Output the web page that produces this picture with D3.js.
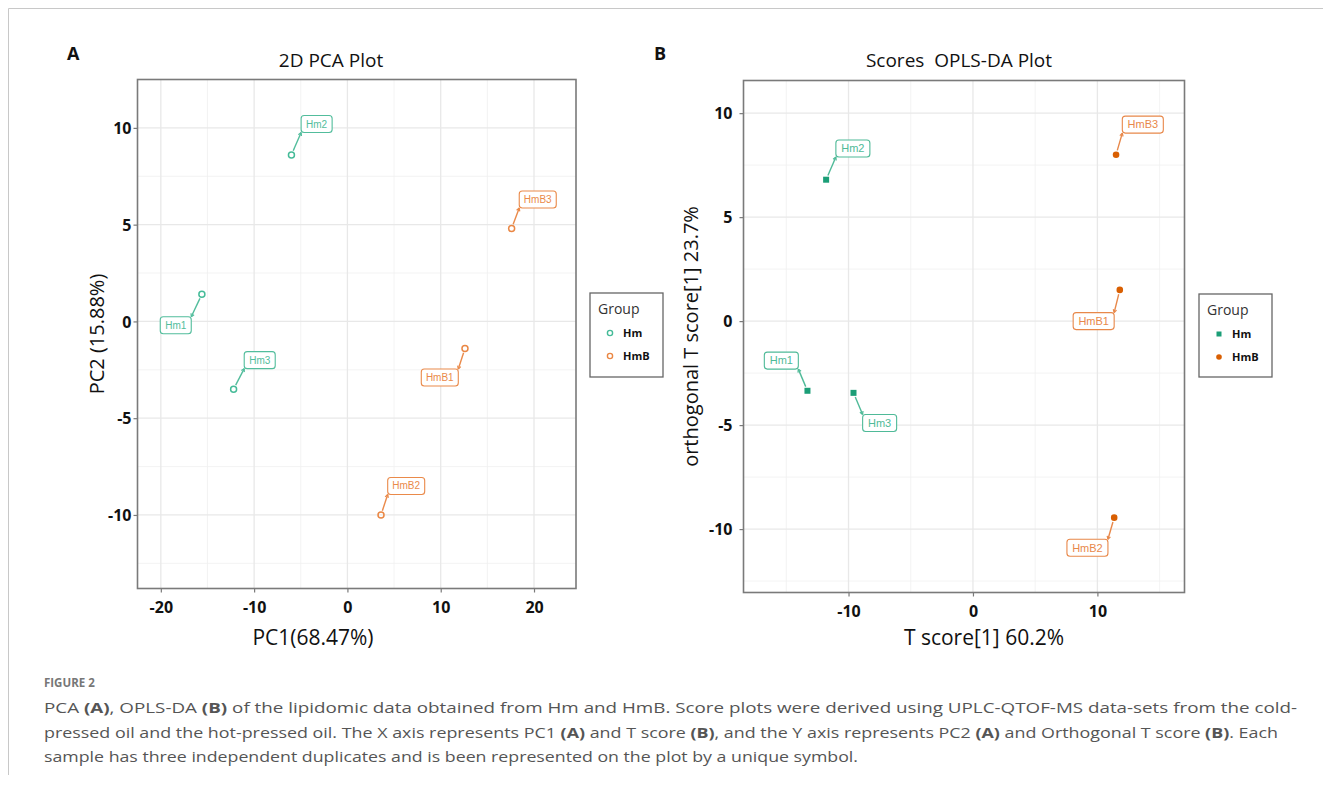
<!DOCTYPE html>
<html>
<head>
<meta charset="utf-8">
<script src="https://cdn.jsdelivr.net/npm/d3@7"></script>
<style>
  body { margin: 0; background: #fff; }
  svg { display: block; font-family: "Open Sans", "Noto Sans", sans-serif; }
</style>
</head>
<body>
<svg id="fig" width="1323" height="787"></svg>
<script>
// ---------- data ----------
const samples = ["Hm1", "Hm2", "Hm3", "HmB1", "HmB2", "HmB3"];
const groups = ["Hm", "Hm", "Hm", "HmB", "HmB", "HmB"];
const groupNames = ["Hm", "HmB"];

// panel A: PCA scores
const pcaPC1 = [-15.6, -6.0, -12.2, 12.6, 3.6, 17.6];
const pcaPC2 = [1.4, 8.6, -3.5, -1.4, -10.0, 4.8];
const pcaLabelX = [-18.4, -3.3, -9.4, 9.9, 6.3, 20.4];
const pcaLabelY = [-0.2, 10.2, -2.0, -2.9, -8.5, 6.3];
const pcaXTicks = [-20, -10, 0, 10, 20];
const pcaYTicks = [-10, -5, 0, 5, 10];

// panel B: OPLS-DA scores
const oplsT = [-13.3, -11.8, -9.6, 11.8, 11.35, 11.5];
const oplsOrtho = [-3.35, 6.8, -3.45, 1.5, -9.45, 8.0];
const oplsLabelX = [-15.4, -9.65, -7.5, 9.7, 9.2, 13.65];
const oplsLabelY = [-1.9, 8.3, -4.9, 0.0, -10.9, 9.45];
const oplsXTicks = [-10, 0, 10];
const oplsYTicks = [-10, -5, 0, 5, 10];

const captionLines = [
  [["PCA ", 0], ["(A)", 1], [", OPLS-DA ", 0], ["(B)", 1], [" of the lipidomic data obtained from Hm and HmB. Score plots were derived using UPLC-QTOF-MS data-sets from the cold-", 0]],
  [["pressed oil and the hot-pressed oil. The X axis represents PC1 ", 0], ["(A)", 1], [" and T score ", 0], ["(B)", 1], [", and the Y axis represents PC2 ", 0], ["(A)", 1], [" and Orthogonal T score ", 0], ["(B)", 1], [". Each", 0]],
  [["sample has three independent duplicates and is been represented on the plot by a unique symbol.", 0]]
];

const svg = d3.select("#fig");

// outer frame lines
svg.append("line").attr("x1", 8.5).attr("x2", 1323).attr("y1", 8.5).attr("y2", 8.5)
  .attr("stroke", "#c8c8c8").attr("stroke-width", 1);
svg.append("line").attr("x1", 8.5).attr("x2", 8.5).attr("y1", 8.5).attr("y2", 775)
  .attr("stroke", "#c8c8c8").attr("stroke-width", 1);

function drawPanel(cfg) {
  const x = d3.scaleLinear().domain(cfg.xDomain).range([cfg.left, cfg.right]);
  const y = d3.scaleLinear().domain(cfg.yDomain).range([cfg.bottom, cfg.top]);
  const g = svg.append("g");

  // minor grid (midpoints between major ticks)
  g.selectAll(".xminor").data(cfg.xMinor).enter().append("line")
    .attr("x1", d => x(d)).attr("x2", d => x(d))
    .attr("y1", cfg.top).attr("y2", cfg.bottom)
    .attr("stroke", "#f0f0f0").attr("stroke-width", 0.8);
  g.selectAll(".yminor").data(cfg.yMinor).enter().append("line")
    .attr("y1", d => y(d)).attr("y2", d => y(d))
    .attr("x1", cfg.left).attr("x2", cfg.right)
    .attr("stroke", "#f0f0f0").attr("stroke-width", 0.8);
  // major grid
  g.selectAll(".xmajor").data(cfg.xTicks).enter().append("line")
    .attr("x1", d => x(d)).attr("x2", d => x(d))
    .attr("y1", cfg.top).attr("y2", cfg.bottom)
    .attr("stroke", "#e8e8e8").attr("stroke-width", 1.3);
  g.selectAll(".ymajor").data(cfg.yTicks).enter().append("line")
    .attr("y1", d => y(d)).attr("y2", d => y(d))
    .attr("x1", cfg.left).attr("x2", cfg.right)
    .attr("stroke", "#e8e8e8").attr("stroke-width", 1.3);

  // axes (plain hyphen for negatives, like the original)
  const fmt = d => String(d);
  const ax = g.append("g").attr("transform", `translate(0,${cfg.bottom})`)
    .call(d3.axisBottom(x).tickValues(cfg.xTicks).tickSize(4).tickPadding(9).tickFormat(fmt));
  const ay = g.append("g").attr("transform", `translate(${cfg.left},0)`)
    .call(d3.axisLeft(y).tickValues(cfg.yTicks).tickSize(4).tickPadding(cfg.yPad).tickFormat(fmt));
  [ax, ay].forEach(a => {
    a.select(".domain").remove();
    a.selectAll(".tick line").attr("stroke", "#7a7a7a").attr("stroke-width", 1.2);
    a.selectAll(".tick text").attr("fill", "#111").style("font-size", "16px")
      .style("font-weight", "bold").style("font-family", "'Open Sans', sans-serif");
  });
  ay.selectAll(".tick text").attr("dy", "0.36em");

  // panel border
  g.append("rect").attr("x", cfg.left).attr("y", cfg.top)
    .attr("width", cfg.right - cfg.left).attr("height", cfg.bottom - cfg.top)
    .attr("fill", "none").attr("stroke", "#7a7a7a").attr("stroke-width", 1.6);

  // repel-style labels
  const rows = samples.map((s, i) => ({
    name: s, group: groups[i],
    px: x(cfg.xs[i]), py: y(cfg.ys[i]),
    lx: x(cfg.lxs[i]), ly: y(cfg.lys[i])
  }));
  rows.forEach(r => {
    const col = cfg.labelColor[r.group];
    const w = r.group === "Hm" ? cfg.boxW[0] : cfg.boxW[1];
    const h = 17;
    const bx0 = r.lx - w / 2, by0 = r.ly - h / 2;
    // segment to nearest point on box
    const ex = Math.max(bx0, Math.min(r.px, bx0 + w));
    const ey = Math.max(by0, Math.min(r.py, by0 + h));
    const dx = ex - r.px, dy = ey - r.py, len = Math.hypot(dx, dy);
    const sx = r.px + dx / len * 4.5, sy = r.py + dy / len * 4.5;
    g.append("line").attr("x1", sx).attr("y1", sy).attr("x2", ex).attr("y2", ey)
      .attr("stroke", col).attr("stroke-width", 1.4);
    // little arrow head at box end
    const ang = Math.atan2(dy, dx);
    const ah = 3.5;
    g.append("path")
      .attr("d", `M${ex},${ey} L${ex - ah * Math.cos(ang - 0.5)},${ey - ah * Math.sin(ang - 0.5)} M${ex},${ey} L${ex - ah * Math.cos(ang + 0.5)},${ey - ah * Math.sin(ang + 0.5)}`)
      .attr("stroke", col).attr("stroke-width", 1.2).attr("fill", "none");
    g.append("rect").attr("x", bx0).attr("y", by0).attr("width", w).attr("height", h)
      .attr("rx", 3).attr("fill", "#fff").attr("fill-opacity", 0.9)
      .attr("stroke", col).attr("stroke-width", 1.1);
    g.append("text").attr("x", r.lx).attr("y", r.ly).attr("dy", "0.35em")
      .attr("text-anchor", "middle").attr("fill", col)
      .style("font-size", cfg.labelFont + "px").style("font-family", "'Liberation Sans', Arial, sans-serif")
      .text(r.name);
  });

  // points
  rows.forEach(r => {
    const col = cfg.pointColor[r.group];
    if (cfg.shape[r.group] === "open") {
      g.append("circle").attr("cx", r.px).attr("cy", r.py).attr("r", 3)
        .attr("fill", "none").attr("stroke", col).attr("stroke-width", 1.5);
    } else if (cfg.shape[r.group] === "square") {
      g.append("rect").attr("x", r.px - 3).attr("y", r.py - 3).attr("width", 6).attr("height", 6)
        .attr("fill", col);
    } else {
      g.append("circle").attr("cx", r.px).attr("cy", r.py).attr("r", 3.3).attr("fill", col);
    }
  });

  // titles
  svg.append("text").attr("x", cfg.titleX).attr("y", 67).attr("text-anchor", "middle")
    .style("font-size", "19px").style("white-space", "pre").attr("fill", "#111").text(cfg.title);
  svg.append("text").attr("x", cfg.tagX).attr("y", 60).style("font-size", "18px")
    .style("font-weight", "bold").attr("fill", "#111").text(cfg.tag);
  svg.append("text").attr("x", cfg.xTitleX).attr("y", 645).attr("text-anchor", "middle")
    .style("font-size", "21px").attr("fill", "#111").text(cfg.xTitle);
  svg.append("text").attr("transform", `translate(${cfg.yTitleX},${(cfg.top + cfg.bottom) / 2}) rotate(-90)`)
    .attr("text-anchor", "middle").attr("dy", "0.35em")
    .style("font-size", "20px").attr("fill", "#111").text(cfg.yTitle);

  // legend
  const lg = svg.append("g").attr("transform", `translate(${cfg.legend[0]},${cfg.legend[1]})`);
  lg.append("rect").attr("x", 0).attr("y", 0).attr("width", cfg.legend[2]).attr("height", cfg.legend[3])
    .attr("fill", "#fff").attr("stroke", "#666").attr("stroke-width", 1.3);
  lg.append("text").attr("x", 8).attr("y", 21).style("font-size", "14px").attr("fill", "#333").text("Group");
  groupNames.forEach((gname, k) => {
    const cy = 40 + k * 23, cx = 20;
    const col = cfg.pointColor[gname];
    if (cfg.shape[gname] === "open") {
      lg.append("circle").attr("cx", cx).attr("cy", cy).attr("r", 2.6)
        .attr("fill", "none").attr("stroke", col).attr("stroke-width", 1.4);
    } else if (cfg.shape[gname] === "square") {
      lg.append("rect").attr("x", cx - 2.5).attr("y", cy - 2.5).attr("width", 5).attr("height", 5).attr("fill", col);
    } else {
      lg.append("circle").attr("cx", cx).attr("cy", cy).attr("r", 2.8).attr("fill", col);
    }
    lg.append("text").attr("x", cx + 13).attr("y", cy).attr("dy", "0.35em")
      .style("font-size", "11px").style("font-weight", "bold").attr("fill", "#111").text(gname);
  });
}

drawPanel({
  left: 137.5, right: 576, top: 79.5, bottom: 588.5,
  xDomain: [-22.5, 24.5], yDomain: [-13.8, 12.5],
  xTicks: pcaXTicks, yTicks: pcaYTicks,
  xMinor: [-15, -5, 5, 15], yMinor: [-12.5, -7.5, -2.5, 2.5, 7.5],
  yPad: 2,
  xs: pcaPC1, ys: pcaPC2, lxs: pcaLabelX, lys: pcaLabelY,
  pointColor: { Hm: "#45bb98", HmB: "#ea8744" },
  labelColor: { Hm: "#52bd9c", HmB: "#ea8a4a" },
  shape: { Hm: "open", HmB: "open" },
  boxW: [31, 37], labelFont: 10,
  title: "2D PCA Plot", titleX: 331, tag: "A", tagX: 67,
  xTitle: "PC1(68.47%)", xTitleX: 313,
  yTitle: "PC2 (15.88%)", yTitleX: 97,
  legend: [590, 293, 73, 84]
});

drawPanel({
  left: 743.5, right: 1184.5, top: 80.5, bottom: 592.5,
  xDomain: [-18.44, 17.0], yDomain: [-13.05, 11.57],
  xTicks: oplsXTicks, yTicks: oplsYTicks,
  xMinor: [-15, -5, 5, 15], yMinor: [-12.5, -7.5, -2.5, 2.5, 7.5],
  yPad: 7,
  xs: oplsT, ys: oplsOrtho, lxs: oplsLabelX, lys: oplsLabelY,
  pointColor: { Hm: "#1b9e77", HmB: "#d95f02" },
  labelColor: { Hm: "#4fba98", HmB: "#e8884a" },
  shape: { Hm: "square", HmB: "filled" },
  boxW: [34, 41], labelFont: 11,
  title: "Scores  OPLS-DA Plot", titleX: 959, tag: "B", tagX: 654,
  xTitle: "T score[1] 60.2%", xTitleX: 984,
  yTitle: "orthogonal T score[1] 23.7%", yTitleX: 691,
  legend: [1199, 294, 73, 83]
});

// caption
svg.append("text").attr("x", 44).attr("y", 687).style("font-size", "11.5px")
  .style("font-weight", "bold").style("font-family", "'Open Sans', sans-serif")
  .attr("fill", "#777").text("FIGURE 2");
const lineEnds = [1297, 1278, 858];
captionLines.forEach((parts, i) => {
  const t = svg.append("text").attr("x", 44).attr("y", 713 + i * 24.5)
    .style("font-size", "15px").attr("fill", "#555")
    .style("font-family", "'Open Sans', sans-serif");
  parts.forEach(p => {
    t.append("tspan").style("font-weight", p[1] ? "bold" : "normal").text(p[0]);
  });
  t.attr("textLength", lineEnds[i] - 44).attr("lengthAdjust", "spacingAndGlyphs");
});
</script>
</body>
</html>
